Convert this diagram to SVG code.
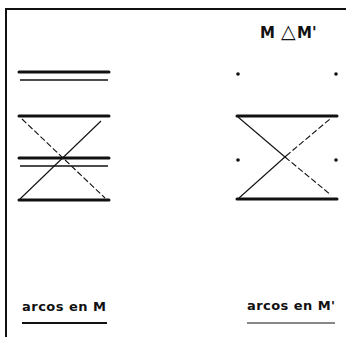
<svg xmlns="http://www.w3.org/2000/svg" width="346" height="337" viewBox="0 0 346 337">
<style>
.frame{stroke:#111;stroke-width:2;fill:none}
.thick{stroke:#111;stroke-width:3;stroke-linecap:round;fill:none}
.thin{stroke:#111;stroke-width:1.3;fill:none}
.solid{stroke:#111;stroke-width:1.1;fill:none}
.dash{stroke:#111;stroke-width:1.1;stroke-dasharray:6 2.5;fill:none}
.dot{fill:#111}
.lbl{font-family:"DejaVu Sans","Liberation Sans",sans-serif;font-weight:bold;fill:#111}
</style>
<rect width="346" height="337" fill="#fff"/>
<g id="frame">
<line class="frame" x1="6" y1="9" x2="6" y2="337"/>
<line class="frame" x1="5" y1="9" x2="346" y2="9"/>
</g>
<g id="title"><text class="lbl" x="260" y="38" font-size="15">M <tspan x="281" font-size="19" font-weight="normal">△</tspan><tspan x="297">M'</tspan></text></g>
<g id="left-M">
<line class="thick" x1="19" y1="72" x2="109" y2="72"/>
<line class="thin" x1="20" y1="80" x2="108" y2="80"/>
<line class="thick" x1="19" y1="116" x2="109" y2="116"/>
<line class="thick" x1="19" y1="158" x2="109" y2="158"/>
<line class="thin" x1="20" y1="166" x2="108" y2="166"/>
<line class="thick" x1="19" y1="200" x2="109" y2="200"/>
</g>
<g id="right-M">
<circle class="dot" cx="238" cy="74" r="1.8"/>
<circle class="dot" cx="336" cy="74" r="1.8"/>
<circle class="dot" cx="238" cy="160" r="1.8"/>
<circle class="dot" cx="336" cy="160" r="1.8"/>
<line class="thick" x1="237" y1="116" x2="337" y2="116"/>
<line class="thick" x1="237" y1="199" x2="337" y2="199"/>
</g>
<g id="connectors">
<line class="dash" x1="22" y1="119" x2="105" y2="198"/>
<line class="solid" x1="20" y1="199" x2="101" y2="121"/>
<line class="solid" x1="238" y1="117" x2="285" y2="157"/>
<line class="dash" x1="285" y1="157" x2="331" y2="195"/>
<line class="solid" x1="239" y1="198" x2="286" y2="156"/>
<line class="dash" x1="286" y1="156" x2="330" y2="119"/>
</g>
<g id="legend-M">
<text class="lbl" x="22" y="311" font-size="13" textLength="84" lengthAdjust="spacing">arcos en M</text>
<line x1="22" y1="323" x2="107" y2="323" stroke="#111" stroke-width="2.2"/>
</g>
<g id="legend-M2">
<text class="lbl" x="247" y="310" font-size="13" textLength="88" lengthAdjust="spacing">arcos en M'</text>
<line x1="247" y1="323" x2="335" y2="323" stroke="#111" stroke-width="1.2"/>
</g>
</svg>
